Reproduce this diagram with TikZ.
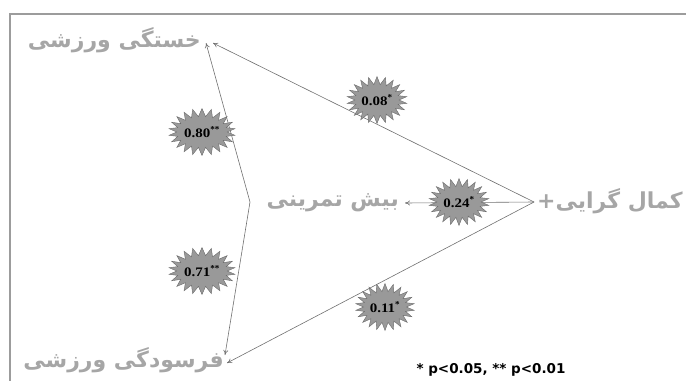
\documentclass[tikz,border=0pt]{standalone}
\usepackage{fontspec}
\usepackage{graphicx}
\usetikzlibrary{shapes.symbols,arrows.meta}
\TeXXeTstate=1
\newfontfamily\fafont[Script=Arabic]{DejaVu Sans}
\newfontfamily\notefont{DejaVu Sans}
\newfontfamily\numfont{Liberation Serif}
\newcommand{\wnum}[2]{\scalebox{1.15}[1]{#1}\textsuperscript{#2}}
\definecolor{txtgray}{HTML}{A6A6A6}
\definecolor{stargray}{HTML}{999999}
\definecolor{stardark}{HTML}{6A6A6A}
\definecolor{linegray}{HTML}{707070}
\definecolor{framegray}{HTML}{9C9C9C}
\begin{document}
\begin{tikzpicture}[x=1pt,y=-1pt,
  fa/.style={font=\fafont\bfseries\fontsize{22}{26}\selectfont, text=txtgray, inner sep=0pt},
  burst/.style={starburst, starburst points=22, starburst point height=8pt,
    random starburst=0, fill=stargray, draw=stardark, line width=0.4pt,
    minimum width=58pt, minimum height=47pt, inner sep=0pt,
    font=\numfont\bfseries\fontsize{13}{15}\selectfont},
  conn/.style={draw=linegray, line width=0.6pt, -{To[length=5pt,width=5pt]}}
]
\useasboundingbox (0,0) rectangle (686,381);
\draw[framegray, line width=1.5pt] (686,14) -- (10,14) -- (10,381);

\node[fa, anchor=east] (fatigue) at (201,40) {\beginR خستگی ورزشی\endR};
\node[fa, anchor=east] (burnout) at (224,360) {\beginR فرسودگی ورزشی\endR};
\node[fa, anchor=east] (over) at (399,203) {\beginR بیش تمرینی\endR};
\node[fa, anchor=west] (perf) at (537,201) {\beginR کمال گرایی+\endR};

\coordinate (lv) at (250,202);
\coordinate (rv) at (534,202);

\draw[conn] (lv) -- ([shift={(5,3)}]fatigue.east);
\draw[conn] (lv) -- ([shift={(1,-5)}]burnout.east);
\draw[conn] (rv) -- ([shift={(12,3)}]fatigue.east);
\draw[conn] (rv) -- ([shift={(3,3)}]burnout.east);
\draw[conn] (rv) -- ([xshift=6pt]over.east);

\node[burst] (s80) at (202,132) {\wnum{0.80}{**}};
\node[burst] (s71) at (202,271) {\wnum{0.71}{**}};
\node[burst] (s08) at (377,100) {\wnum{0.08}{*}};
\node[burst] (s11) at (385,307) {\wnum{0.11}{*}};
\node[burst] (s24) at (459,202) {\wnum{0.24}{*}};

\node[font=\notefont\bfseries\fontsize{13.5}{16}\selectfont] (note) at (491,370) {* p<0.05, ** p<0.01};
\end{tikzpicture}
\end{document}
